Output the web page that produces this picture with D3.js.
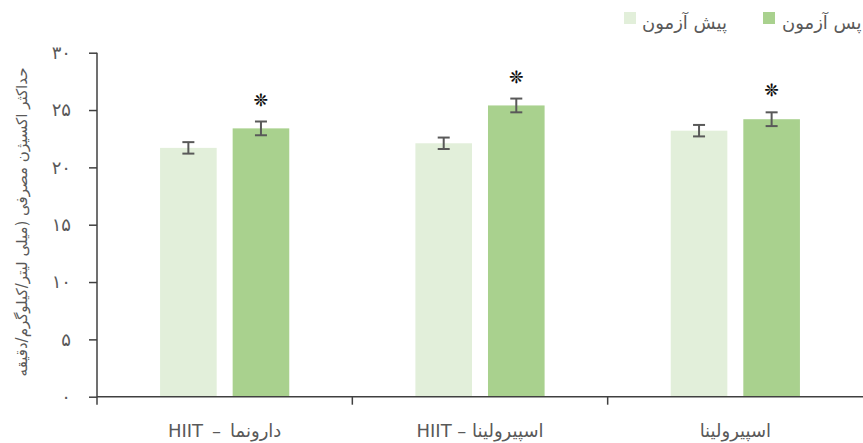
<!DOCTYPE html>
<html>
<head>
<meta charset="utf-8">
<script src="https://cdn.jsdelivr.net/npm/d3@7"></script>
<style>
  html, body { margin: 0; padding: 0; background: #ffffff; }
  svg { display: block; font-family: "DejaVu Sans", "Open Sans", sans-serif; }
</style>
</head>
<body>
<svg id="chart" width="863" height="443"></svg>
<script>
// Groups shown along the x axis
const categories = ["دارونما\u2002–\u2002HIIT", "اسپیرولینا – HIIT", "اسپیرولینا"];
// Series names (legend)
const seriesNames = ["پیش آزمون", "پس آزمون"];
// Mean VO2max per group
const preValues  = [21.7, 22.1, 23.2];
const postValues = [23.4, 25.4, 24.2];
// Standard error per group
const preErrors  = [0.5, 0.5, 0.5];
const postErrors = [0.6, 0.6, 0.6];
// Significance markers for the post-test bars
const postSignificant = [true, true, true];
// Y axis
const yTickValues = [0, 5, 10, 15, 20, 25, 30];
const yTickLabels = ["۰", "۵", "۱۰", "۱۵", "۲۰", "۲۵", "۳۰"];
const yTitle = "حداکثر اکسیژن مصرفی (میلی لیتر/کیلوگرم/دقیقه";

const colors = ["#e2efda", "#a9d18e"];
const textColor = "#595959";
const axisColor = "#404040";

const svg = d3.select("#chart");
const plotLeft = 97, plotRight = 863, plotTop = 52.7, plotBottom = 396.7;

const x0 = d3.scaleBand().domain(categories).range([plotLeft, plotRight]).padding(0);
const bw = x0.bandwidth();
const x1 = d3.scaleBand().domain(seriesNames)
  .range([bw * 0.247, bw * 0.753]).paddingInner(0.22);
const y = d3.scaleLinear().domain([0, 30]).range([plotBottom, plotTop]);

const rows = categories.map((c, i) => ({
  cat: c,
  bars: [
    { s: seriesNames[0], v: preValues[i],  e: preErrors[i],  sig: false, color: colors[0] },
    { s: seriesNames[1], v: postValues[i], e: postErrors[i], sig: postSignificant[i], color: colors[1] }
  ]
}));

// Bars
const groups = svg.append("g").selectAll("g").data(rows).join("g")
  .attr("transform", d => `translate(${x0(d.cat)},0)`);

groups.selectAll("rect").data(d => d.bars).join("rect")
  .attr("x", d => x1(d.s))
  .attr("width", x1.bandwidth())
  .attr("y", d => y(d.v))
  .attr("height", d => y(0) - y(d.v))
  .attr("fill", d => d.color);

// Error bars
const eb = groups.selectAll("g.err").data(d => d.bars).join("g").attr("class", "err")
  .attr("stroke", "#595959").attr("stroke-width", 2);
eb.append("line")
  .attr("x1", d => x1(d.s) + x1.bandwidth() / 2)
  .attr("x2", d => x1(d.s) + x1.bandwidth() / 2)
  .attr("y1", d => y(d.v + d.e)).attr("y2", d => y(d.v - d.e));
eb.append("line")
  .attr("x1", d => x1(d.s) + x1.bandwidth() / 2 - 6)
  .attr("x2", d => x1(d.s) + x1.bandwidth() / 2 + 6)
  .attr("y1", d => y(d.v + d.e)).attr("y2", d => y(d.v + d.e));
eb.append("line")
  .attr("x1", d => x1(d.s) + x1.bandwidth() / 2 - 6)
  .attr("x2", d => x1(d.s) + x1.bandwidth() / 2 + 6)
  .attr("y1", d => y(d.v - d.e)).attr("y2", d => y(d.v - d.e));

// Significance asterisks
groups.selectAll("text.sig").data(d => d.bars.filter(b => b.sig)).join("text")
  .attr("class", "sig")
  .attr("x", d => x1(d.s) + x1.bandwidth() / 2)
  .attr("y", d => y(d.v + d.e) - 22)
  .attr("text-anchor", "middle")
  .attr("dominant-baseline", "central")
  .attr("font-size", 17)
  .attr("fill", "#000")
  .attr("stroke", "#000")
  .attr("stroke-width", 0.3)
  .text("❊");

// Y axis
const yAxis = d3.axisLeft(y).tickValues(yTickValues)
  .tickFormat((d, i) => yTickLabels[i]).tickSize(8).tickSizeOuter(0).tickPadding(18);
const gy = svg.append("g").attr("transform", `translate(${plotLeft},0)`).call(yAxis);
gy.select(".domain").attr("stroke", axisColor).attr("stroke-width", 1.5)
  .attr("d", `M0,${plotTop}V${plotBottom + 8}`);
gy.selectAll(".tick line").attr("stroke", axisColor).attr("stroke-width", 1.5);
gy.selectAll(".tick text").attr("fill", textColor).attr("font-size", 18)
  .attr("font-family", "DejaVu Sans");

// X axis: baseline plus ticks between categories
const boundaries = categories.slice(1).map(c => x0(c));
svg.append("line").attr("x1", plotLeft).attr("x2", plotRight)
  .attr("y1", plotBottom).attr("y2", plotBottom)
  .attr("stroke", axisColor).attr("stroke-width", 1.5);
svg.append("g").selectAll("line").data(boundaries).join("line")
  .attr("x1", d => d).attr("x2", d => d)
  .attr("y1", plotBottom).attr("y2", plotBottom + 8)
  .attr("stroke", axisColor).attr("stroke-width", 1.5);
svg.append("g").selectAll("text").data(categories).join("text")
  .attr("x", d => x0(d) + bw / 2)
  .attr("y", 437)
  .attr("direction", "rtl")
  .attr("text-anchor", "middle")
  .attr("font-size", 18)
  .attr("fill", textColor)
  .text(d => d);

// Y title
svg.append("text")
  .attr("transform", "translate(22,222) rotate(-90)")
  .attr("text-anchor", "middle")
  .attr("dominant-baseline", "central")
  .attr("direction", "rtl")
  .attr("font-size", 15)
  .attr("fill", textColor)
  .text(yTitle);

// Legend
const legendItems = [
  { name: seriesNames[0], color: colors[0], sx: 624, tx: 642 },
  { name: seriesNames[1], color: colors[1], sx: 763, tx: 782 }
];
const lg = svg.append("g").selectAll("g").data(legendItems).join("g");
lg.append("rect").attr("x", d => d.sx).attr("y", 12).attr("width", 12).attr("height", 12)
  .attr("fill", d => d.color);
lg.append("text").attr("x", d => d.tx).attr("y", 29)
  .attr("font-size", 18).attr("fill", textColor).text(d => d.name);
</script>
</body>
</html>
